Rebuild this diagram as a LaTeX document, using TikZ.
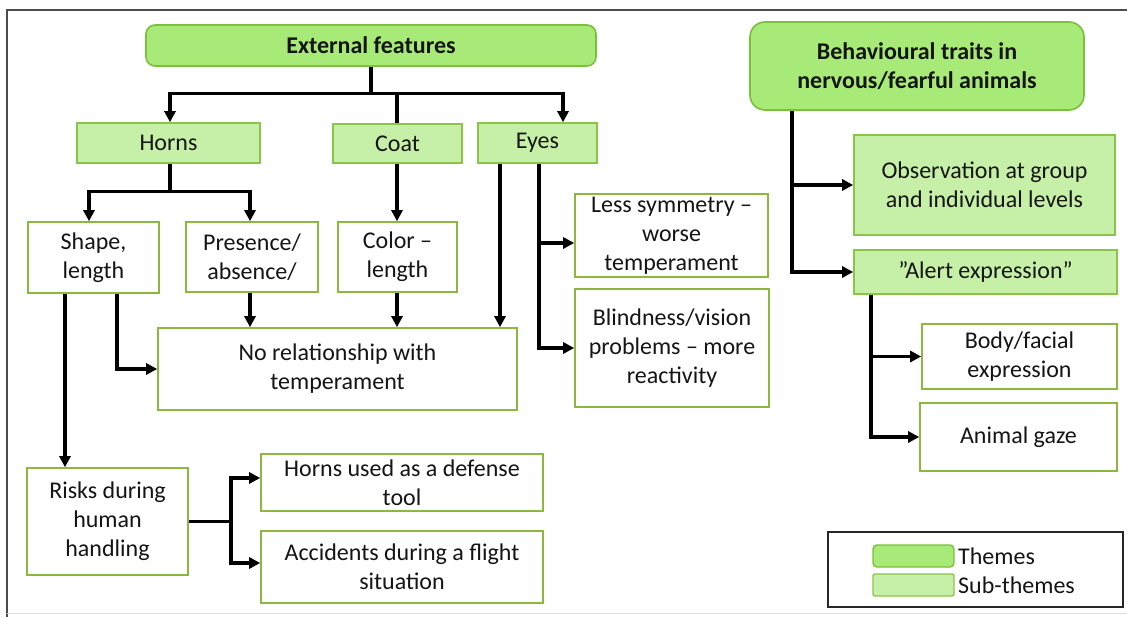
\documentclass[tikz,border=0pt]{standalone}
\usepackage{fontspec}
\setmainfont{Carlito}
\usetikzlibrary{arrows.meta,calc}
\definecolor{themefill}{HTML}{A8EA78}
\definecolor{themedraw}{HTML}{7CBF3A}
\definecolor{subfill}{HTML}{C6EFA8}
\definecolor{subdraw}{HTML}{8CC448}
\definecolor{boxdraw}{HTML}{8DB83F}
\definecolor{txt}{HTML}{151515}
\begin{document}
\begin{tikzpicture}[x=1pt,y=-1pt,
  every node/.style={font=\fontsize{24}{29}\selectfont, text=txt, align=center, inner sep=0pt},
  theme/.style={draw=themedraw, fill=themefill, line width=1.6pt, rounded corners=9pt, font=\fontsize{24}{29}\selectfont\bfseries},
  subtheme/.style={draw=subdraw, fill=subfill, line width=1.6pt},
  plainbox/.style={draw=boxdraw, fill=white, line width=1.6pt},
  conn/.style={line width=3.4pt, black},
  arr/.style={conn, -{Triangle[length=11pt,width=11pt]}},
  sz/.style 2 args={minimum width=#1pt, minimum height=#2pt}
]
\useasboundingbox (0,0) rectangle (1127,617);
% frame
\draw[line width=1.8pt, black!70] (7,617) -- (7,10) -- (1127,10);
\draw[line width=1pt, black!12] (7,613) -- (1127,613);

% themes
\node[theme, sz={450}{41}] (ext) at (371,45.5) {External features};
\node[theme, sz={334}{88}, rounded corners=15pt] (beh) at (917,66) {Behavioural traits in\\nervous/fearful animals};

% sub-themes
\node[subtheme, sz={183}{40}] (horns) at (168.5,143) {Horns};
\node[subtheme, sz={129}{39}] (coat) at (397.5,143.5) {Coat};
\node[subtheme, sz={119}{40}] (eyes) at (537.5,143) {Eyes};
\node[subtheme, sz={261}{100}] (obs) at (984.5,185) {Observation at group\\and individual levels};
\node[subtheme, sz={263}{44}] (alert) at (985.5,272) {"Alert expression"};

% plain boxes
\node[plainbox, sz={131}{71}] (shape) at (93.5,257.5) {Shape,\\length};
\node[plainbox, sz={132}{70}] (pres) at (252,257) {Presence/\\absence/};
\node[plainbox, sz={119}{70}] (color) at (397.5,257) {Color --\\length};
\node[plainbox, sz={193}{83}] (less) at (671.5,235.5) {Less symmetry --\\worse\\temperament};
\node[plainbox, sz={194}{118}] (blind) at (672,348) {Blindness/vision\\problems -- more\\reactivity};
\node[plainbox, sz={359}{82}] (norel) at (337.5,369) {No relationship with\\temperament};
\node[plainbox, sz={161}{107}] (risks) at (107.5,521.5) {Risks during\\human\\handling};
\node[plainbox, sz={282}{57}] (hornsu) at (402,482.5) {Horns used as a defense\\tool};
\node[plainbox, sz={282}{72}] (acc) at (402,567) {Accidents during a flight\\situation};
\node[plainbox, sz={195}{65}] (body) at (1019.5,356.5) {Body/facial\\expression};
\node[plainbox, sz={197}{68}] (gaze) at (1018.5,437) {Animal gaze};

% connectors: External features
\draw[conn] (ext.south) -- ++(0,27) coordinate (ej);
\draw[arr] (ej) -| ([xshift=1.5pt]horns.north);
\draw[arr] (ej) -| ([xshift=25.5pt]eyes.north);
\draw[conn] (ej) -| ([xshift=-0.5pt]coat.north);

% Horns
\draw[conn] ([xshift=1.5pt]horns.south) -- ++(0,28) coordinate (hj);
\draw[arr] (hj) -| ([xshift=-4.5pt]shape.north);
\draw[arr] (hj) -| ([xshift=-2pt]pres.north);

% Coat
\draw[arr] ([xshift=-0.5pt]coat.south) -- ([xshift=-0.5pt]color.north);

% Shape
\draw[arr] ([xshift=-28.5pt]shape.south) -- ([xshift=-28.5pt]shape.south |- risks.north);
\draw[arr] ([xshift=23.5pt]shape.south) |- (norel.west);

% to No relationship
\draw[arr] ([xshift=-2pt]pres.south) -- ([xshift=-2pt]pres.south |- norel.north);
\draw[arr] ([xshift=-0.5pt]color.south) -- ([xshift=-0.5pt]color.south |- norel.north);
\draw[arr] ([xshift=-37.5pt]eyes.south) -- ([xshift=-37.5pt]eyes.south |- norel.north);

% Eyes
\draw[arr] ([xshift=1.5pt]eyes.south) |- ([yshift=-7.5pt]less.west);
\draw[arr] ([xshift=1.5pt]eyes.south) |- (blind.west);

% Risks
\draw[conn] (risks.east) -- ++(42,0) coordinate (rj);
\draw[arr] (rj) |- ([yshift=4.5pt]hornsu.west);
\draw[arr] (rj) |- ([yshift=4pt]acc.west);

% Behavioural
\draw[arr] ([xshift=-125pt]beh.south) |- (obs.west);
\draw[arr] ([xshift=-125pt]beh.south) |- (alert.west);

% Alert
\draw[arr] ([xshift=-114.5pt]alert.south) |- (body.west);
\draw[arr] ([xshift=-114.5pt]alert.south) |- (gaze.west);

% legend
\node[draw=black!85, line width=1.8pt, fill=white, minimum width=295pt, minimum height=75pt] (legend) at (975.5,569.5) {};
\node[draw=themedraw, fill=themefill, line width=1.4pt, rounded corners=4pt, sz={81}{22}] (sw1) at (913.5,556) {};
\node[draw=subdraw, fill=subfill, line width=1.4pt, rounded corners=2pt, sz={81}{22}] (sw2) at (913.5,585) {};
\node[anchor=west] (lt1) at (958,556) {Themes};
\node[anchor=west] (lt2) at (958,585) {Sub-themes};
\end{tikzpicture}
\end{document}
